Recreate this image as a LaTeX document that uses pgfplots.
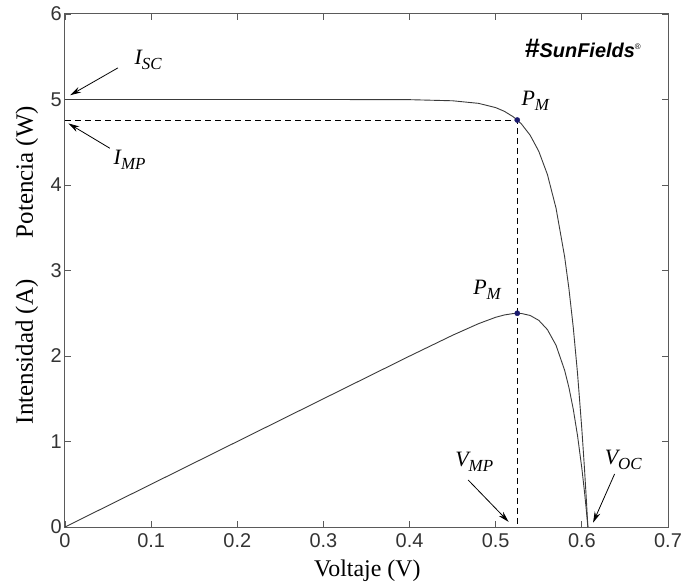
\documentclass[border=0pt]{standalone}
\usepackage{pgfplots}
\pgfplotsset{compat=1.18}
\usepackage{fontspec}
\setmainfont{Liberation Serif}
\newfontfamily\ticksans{Liberation Sans}
\usetikzlibrary{arrows.meta}
\definecolor{axgray}{HTML}{5A5A5A}
\definecolor{curve}{HTML}{3A3A3A}
\definecolor{pmblue}{HTML}{1A1A6E}
% italic letter with a large italic subscript, as in the reference
\newcommand{\lab}[2]{{\fontsize{22}{22}\selectfont\itshape #1}\raisebox{-5bp}{\fontsize{17}{17}\selectfont\itshape #2}}

\begin{document}
\begin{tikzpicture}
\useasboundingbox (-65bp,-58bp) rectangle (619bp,527bp);
\begin{axis}[
  at={(0,0)}, anchor=south west,
  scale only axis, width=603bp, height=513bp,
  xmin=0, xmax=0.7, ymin=0, ymax=6,
  xtick={0,0.1,0.2,0.3,0.4,0.5,0.6,0.7},
  xticklabels={0,0.1,0.2,0.3,0.4,0.5,0.6,0.7},
  ytick={0,1,2,3,4,5,6},
  axis line style={axgray, line width=1bp},
  tick style={axgray, line width=0.8bp},
  major tick length=6bp,
  tick align=inside,
  tick label style={font=\ticksans\fontsize{20}{20}\selectfont, text=black!80, inner sep=1bp},
  yticklabel style={xshift=-2bp},
  xticklabel style={yshift=-5bp},
  /pgf/number format/assume math mode=true,
  clip=false,
]
% I-V curve
\addplot[curve, line width=0.9bp] coordinates {
  (0,5.0) (0.1,5.0) (0.2,5.0) (0.3,5.0) (0.4,4.998) (0.45,4.985) (0.48,4.955)
  (0.5,4.905) (0.51,4.862) (0.52,4.800) (0.525,4.760) (0.53,4.712) (0.54,4.582)
  (0.55,4.394) (0.56,4.123) (0.57,3.730) (0.58,3.161) (0.585,2.787) (0.59,2.337)
  (0.595,1.794) (0.6,1.141) (0.603,0.690) (0.605,0.357) (0.607,0)
};
% P-V curve
\addplot[curve, line width=0.9bp] coordinates {
  (0,0) (0.1,0.5) (0.2,1.0) (0.3,1.5) (0.4,1.999) (0.45,2.243) (0.48,2.378)
  (0.5,2.453) (0.51,2.480) (0.52,2.496) (0.525,2.499) (0.53,2.497) (0.54,2.474)
  (0.55,2.417) (0.56,2.309) (0.57,2.126) (0.58,1.833) (0.585,1.630) (0.59,1.379)
  (0.595,1.067) (0.6,0.685) (0.603,0.416) (0.605,0.216) (0.607,0)
};
% maximum power point guides
\addplot[black, line width=0.8bp, dash pattern=on 6bp off 4bp] coordinates {
  (0,4.76) (0.525,4.76) (0.525,0)
};
\addplot[only marks, mark=*, mark size=2.6bp, pmblue] coordinates {
  (0.525,4.76) (0.525,2.5)
};

% annotations
\node at (axis cs:0.0964,5.46) {\lab{I}{SC}};
\draw[-{Stealth[length=11bp,width=6bp]}, line width=0.8bp] (axis cs:0.0615,5.37) -- (axis cs:0.006,5.05);
\node at (axis cs:0.075,4.29) {\lab{I}{MP}};
\draw[-{Stealth[length=11bp,width=6bp]}, line width=0.8bp] (axis cs:0.052,4.43) -- (axis cs:0.004,4.72);
\node at (axis cs:0.546,4.98) {\lab{P}{M}};
\node at (axis cs:0.49,2.77) {\lab{P}{M}};
\node at (axis cs:0.475,0.76) {\lab{V}{MP}};
\draw[-{Stealth[length=11bp,width=6bp]}, line width=0.8bp] (axis cs:0.468,0.55) -- (axis cs:0.515,0.06);
\node at (axis cs:0.648,0.78) {\lab{V}{OC}};
\draw[-{Stealth[length=11bp,width=6bp]}, line width=0.8bp] (axis cs:0.638,0.62) -- (axis cs:0.613,0.05);

% logo text
\node at (axis cs:0.601,5.60) {\ticksans\bfseries\itshape{\fontsize{27}{27}\selectfont\#}{\fontsize{20}{20}\selectfont SunFields}\raisebox{8bp}{\upshape\mdseries\fontsize{8}{8}\selectfont ®}};

% axis labels
\path (axis cs:0,2.05) ++(-38bp,0) node[rotate=90] {\fontsize{25}{25}\selectfont Intensidad (A)};
\path (axis cs:0,4.15) ++(-38bp,0) node[rotate=90] {\fontsize{25}{25}\selectfont Potencia (W)};
\path (axis cs:0.351,0) ++(0,-44bp) node {\fontsize{24}{24}\selectfont Voltaje (V)};
\end{axis}
\end{tikzpicture}
\end{document}
